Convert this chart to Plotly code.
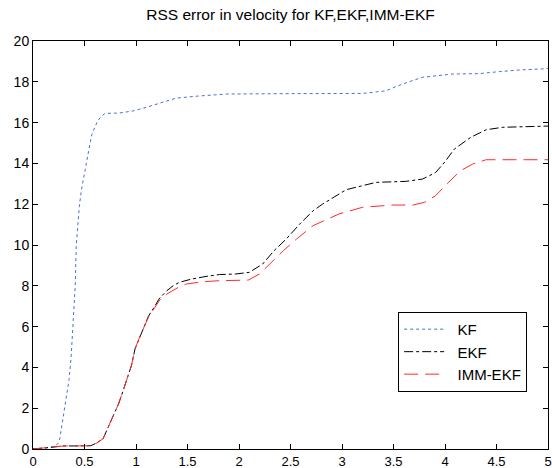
import plotly.graph_objects as go

kf_x = [0, 0.1, 0.2, 0.24, 0.26, 0.29, 0.33, 0.35, 0.37, 0.39, 0.41, 0.42, 0.45, 0.47, 0.50, 0.54, 0.57, 0.62, 0.66, 0.70, 0.84, 0.97, 1.10, 1.26, 1.39, 1.6, 1.88, 2.5, 3.2, 3.43, 3.52, 3.65, 3.78, 4.07, 4.33, 4.53, 4.72, 4.94, 5.0]
kf_y = [0, 0.03, 0.1, 0.25, 0.5, 1.5, 2.6, 3.4, 4.5, 6.5, 8.0, 10.0, 11.9, 12.7, 13.6, 14.6, 15.4, 16.0, 16.3, 16.45, 16.47, 16.57, 16.75, 17.0, 17.2, 17.3, 17.4, 17.42, 17.43, 17.56, 17.76, 18.0, 18.22, 18.38, 18.4, 18.5, 18.58, 18.63, 18.65]

ekf_x = [0, 0.1, 0.2, 0.3, 0.4, 0.5, 0.56, 0.62, 0.68, 0.75, 0.83, 0.875, 0.92, 0.956, 0.99, 1.04, 1.12, 1.17, 1.23, 1.30, 1.36, 1.42, 1.54, 1.68, 1.81, 1.97, 2.10, 2.23, 2.34, 2.46, 2.59, 2.72, 2.81, 3.04, 3.33, 3.62, 3.78, 3.85, 3.91, 4.0, 4.09, 4.25, 4.40, 4.56, 4.91, 5.0]
ekf_y = [0, 0.05, 0.1, 0.15, 0.15, 0.15, 0.16, 0.3, 0.5, 1.3, 2.2, 2.86, 3.6, 4.1, 4.9, 5.55, 6.5, 6.9, 7.4, 7.76, 8.0, 8.17, 8.33, 8.46, 8.55, 8.58, 8.66, 9.07, 9.72, 10.3, 11.03, 11.68, 12.0, 12.71, 13.07, 13.12, 13.23, 13.4, 13.56, 14.08, 14.7, 15.28, 15.65, 15.77, 15.82, 15.83]

imm_x = [0, 0.1, 0.2, 0.3, 0.4, 0.5, 0.56, 0.62, 0.68, 0.75, 0.83, 0.875, 0.92, 0.956, 0.99, 1.04, 1.12, 1.17, 1.23, 1.30, 1.42, 1.49, 1.65, 1.81, 2.09, 2.2, 2.33, 2.43, 2.56, 2.72, 2.97, 3.2, 3.49, 3.69, 3.80, 3.91, 4.0, 4.07, 4.15, 4.27, 4.40, 4.56, 4.94, 5.0]
imm_y = [0, 0.05, 0.1, 0.15, 0.15, 0.15, 0.16, 0.3, 0.5, 1.3, 2.2, 2.86, 3.6, 4.1, 4.9, 5.55, 6.45, 6.85, 7.3, 7.6, 7.95, 8.09, 8.2, 8.25, 8.28, 8.58, 9.23, 9.72, 10.3, 10.95, 11.52, 11.85, 11.96, 11.96, 12.09, 12.42, 12.9, 13.24, 13.64, 13.97, 14.18, 14.18, 14.18, 14.18]

x_ticks = [0, 0.5, 1, 1.5, 2, 2.5, 3, 3.5, 4, 4.5, 5]
y_ticks = [0, 2, 4, 6, 8, 10, 12, 14, 16, 18, 20]
series_names = ["KF", "EKF", "IMM-EKF"]

FONT = "Liberation Sans, Arial"
PAD = "\u00a0\u00a0"

fig = go.Figure()
fig.add_trace(go.Scatter(x=kf_x, y=kf_y, mode="lines", name=PAD + series_names[0],
                         line=dict(color="#4a6fd0", width=1, dash="dot")))
fig.add_trace(go.Scatter(x=ekf_x, y=ekf_y, mode="lines", name=PAD + series_names[1],
                         line=dict(color="black", width=1, dash="dashdot")))
fig.add_trace(go.Scatter(x=imm_x, y=imm_y, mode="lines", name=PAD + series_names[2],
                         line=dict(color="#ff2a2a", width=1, dash="14px,7px")))

axis_common = dict(showgrid=False, zeroline=False, showline=True, linecolor="black",
                   linewidth=1, mirror="ticks", ticks="inside", ticklen=5, automargin=False,
                   ticklabeloverflow="allow", tickcolor="black")

fig.update_layout(
    width=552, height=468,
    margin=dict(l=33, r=4, t=41, b=19),
    paper_bgcolor="white", plot_bgcolor="white",
    title=dict(text="RSS error in velocity for KF,EKF,IMM-EKF", x=(33 + 548) / 2 / 552, xanchor="center",
               y=1 - 15 / 468, yanchor="middle",
               font=dict(family=FONT, size=15.5, color="black")),
    xaxis=dict(range=[0, 5], tickvals=x_ticks, ticktext=[str(t) for t in x_ticks],
               tickfont=dict(family=FONT, size=13, color="black"), **axis_common),
    yaxis=dict(range=[0, 20], tickvals=y_ticks, ticktext=[str(t) for t in y_ticks],
               tickfont=dict(family=FONT, size=14, color="black"), **axis_common),
    legend=dict(x=0.709, y=0.336, xanchor="left", yanchor="top",
                bgcolor="white", bordercolor="black", borderwidth=1,
                font=dict(family=FONT, size=15, color="black"),
                tracegroupgap=0, itemwidth=40),
    showlegend=True,
)

fig.write_html("out.html")
